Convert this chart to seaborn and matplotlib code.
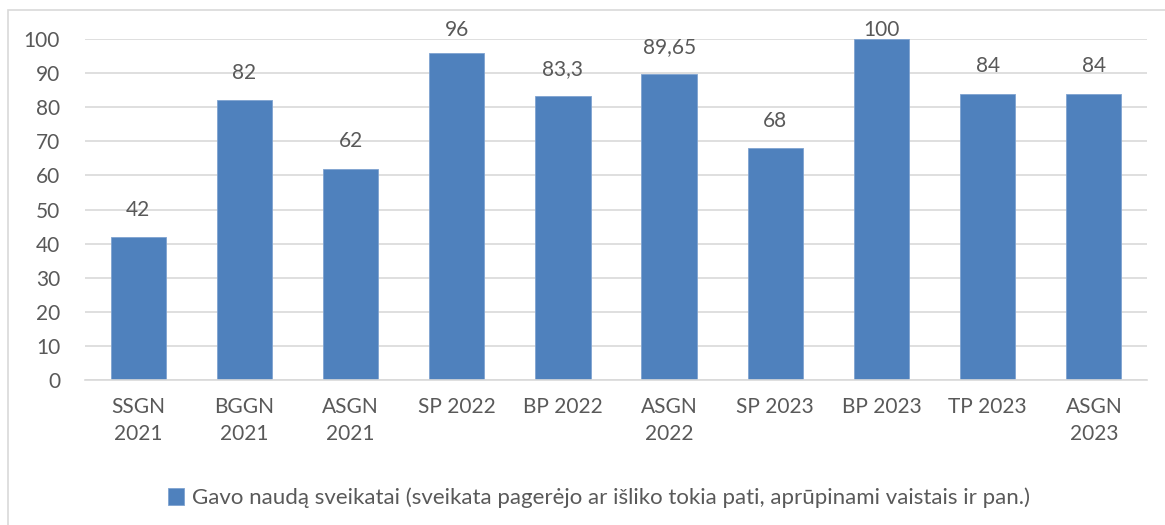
import matplotlib.pyplot as plt
import matplotlib.patches as mpatches
import pandas as pd
import seaborn as sns

# data
categories = ["SSGN\n2021", "BGGN\n2021", "ASGN\n2021", "SP 2022", "BP 2022",
              "ASGN\n2022", "SP 2023", "BP 2023", "TP 2023", "ASGN\n2023"]
values = [42, 82, 62, 96, 83.3, 89.65, 68, 100, 84, 84]
series_name = "Gavo naudą sveikatai (sveikata pagerėjo ar išliko tokia pati, aprūpinami vaistais ir pan.)"

df = pd.DataFrame({"Kategorija": categories, "Reikšmė": values, "Serija": series_name})

sns.set_theme(style="white")
plt.rcParams["font.family"] = ["Lato", "DejaVu Sans"]
text_color = "#595959"
grid_color = "#D9D9D9"
bar_color = "#4F81BD"

fig = plt.figure(figsize=(11.65, 5.25), dpi=100)
ax = fig.add_axes([0.073, 0.2762, 0.9115, 0.6495])

# outer chart frame (light gray)
fig.patches.append(mpatches.Rectangle((8 / 1165, -0.1), 1.2, 1 - 10 / 525 + 0.1,
                                      transform=fig.transFigure, fill=False,
                                      edgecolor=grid_color, linewidth=1.2))

sns.barplot(data=df, x="Kategorija", y="Reikšmė", hue="Serija", palette=[bar_color],
            saturation=1, width=0.52, ax=ax, edgecolor="#7FA3D0", linewidth=0.6)

# value labels above bars, kept inside the chart like Excel does
for i, v in enumerate(values):
    ax.text(i, min(v + 8, 102.6), f"{v:g}".replace(".", ","), ha="center", va="center",
            fontsize=15, color=text_color, clip_on=False)

ax.set_ylim(0, 100)
ax.set_yticks(range(0, 101, 10))
ax.set_xlim(-0.5, len(categories) - 0.5)
ax.yaxis.grid(True, color=grid_color, linewidth=1.2)
ax.set_axisbelow(True)
for s in ["top", "right", "left"]:
    ax.spines[s].set_visible(False)
ax.spines["bottom"].set_color(grid_color)
ax.spines["bottom"].set_linewidth(1.2)
ax.tick_params(axis="both", length=0, labelsize=15, labelcolor=text_color)
ax.tick_params(axis="y", pad=18)
ax.tick_params(axis="x", pad=12)
for t in ax.get_xticklabels():
    t.set_linespacing(1.45)
ax.set_xlabel("")
ax.set_ylabel("")

ax.legend(loc="center", bbox_to_anchor=(0.484, -0.346), frameon=False, fontsize=16,
          handlelength=0.75, handleheight=0.75, handletextpad=0.35, labelcolor=text_color)

fig.savefig("out.png", dpi=100, facecolor="white")
